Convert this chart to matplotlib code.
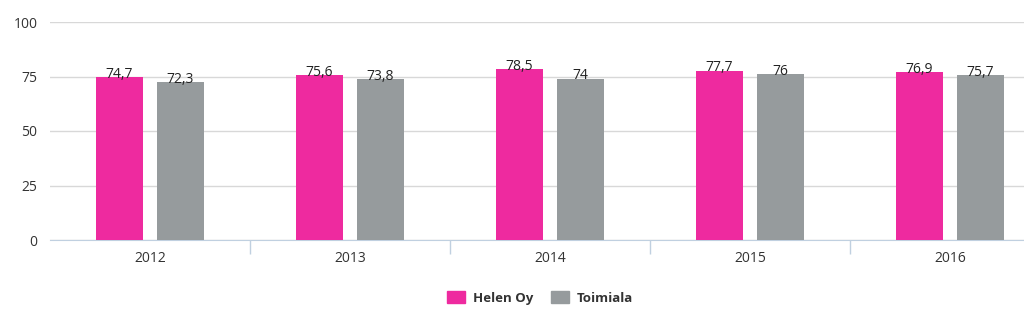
import numpy as np
import matplotlib
matplotlib.use('Agg')
from matplotlib import pyplot as plt
from matplotlib.patches import Patch

years = ['2012', '2013', '2014', '2015', '2016']
helen = [74.7, 75.6, 78.5, 77.7, 76.9]
toimiala = [72.3, 73.8, 74.0, 76.0, 75.7]
series_names = ['Helen Oy', 'Toimiala']

PINK = '#ee2a9f'
GRAY = '#969b9d'

plt.rcParams['font.family'] = ['Open Sans', 'DejaVu Sans']

fig = plt.figure(figsize=(10.24, 3.17), dpi=100)
# axes stretch past the right edge like the cropped original
ax = fig.add_axes([50 / 1024, 77 / 317, 1000 / 1024, 218 / 317])

x = np.arange(len(years))
w = 0.235
ax.bar(x - 0.152, helen, w, color=PINK, zorder=3)
ax.bar(x + 0.152, toimiala, w, color=GRAY, zorder=3)

fmt = lambda v: ('%.1f' % v).replace('.', ',').replace(',0', '')
for xi, h, t in zip(x, helen, toimiala):
    ax.annotate(fmt(h), (xi - 0.152, h), xytext=(0, 2), textcoords='offset points',
                ha='center', va='center', fontsize=10, color='#222222', zorder=4)
    ax.annotate(fmt(t), (xi + 0.152, t), xytext=(0, 2), textcoords='offset points',
                ha='center', va='center', fontsize=10, color='#222222', zorder=4)

ax.set_xlim(-0.5, len(years) - 0.5)
ax.set_ylim(0, 100)
ax.set_yticks([0, 25, 50, 75, 100])
ax.yaxis.grid(True, color='#d8d8d8', linewidth=1, zorder=0)
ax.tick_params(axis='y', length=0, pad=9, labelsize=10, labelcolor='#333333')

ax.set_xticks(x)
ax.set_xticklabels(years)
ax.set_xticks(np.arange(0.5, len(years) - 0.5), minor=True)
ax.tick_params(axis='x', which='major', length=0, pad=8, labelsize=10, labelcolor='#333333')
ax.tick_params(axis='x', which='minor', length=10, color='#c0d0e0', width=1)

for s in ['top', 'right', 'left']:
    ax.spines[s].set_visible(False)
ax.spines['bottom'].set_color('#c0d0e0')

handles = [Patch(color=PINK), Patch(color=GRAY)]
fig.legend(handles, series_names, loc='center', bbox_to_anchor=(540 / 1024, 1 - 298 / 317),
           ncol=2, frameon=False, handlelength=1.4, handleheight=1.0, columnspacing=1.3,
           handletextpad=0.6, prop={'weight': 'bold', 'size': 9.5})
for t in fig.legends[0].get_texts():
    t.set_color('#333333')

fig.savefig('out.png', dpi=100)
